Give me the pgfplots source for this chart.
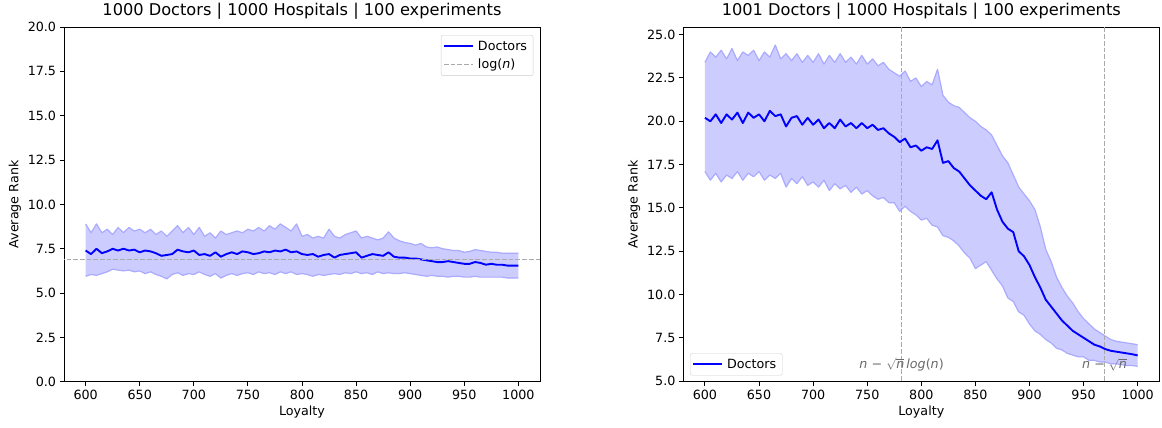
\documentclass[border=0pt]{standalone}
\usepackage{fontspec}
\setmainfont{DejaVu Sans}
\usepackage{pgfplots}
\pgfplotsset{compat=1.18}
\usepackage{pgfplotstable}
\usepgfplotslibrary{fillbetween}

% x, mean, upper band, lower band (read every 5 loyalty units)
\pgfplotstableread{
x m u l
600 7.40 8.90 5.95
605 7.20 8.40 6.05
610 7.50 8.90 6.00
615 7.25 8.40 6.10
620 7.35 8.60 6.20
625 7.50 8.30 6.35
630 7.40 8.70 6.30
635 7.50 8.40 6.25
640 7.40 8.70 6.30
645 7.45 8.50 6.20
650 7.30 8.60 6.25
655 7.40 8.40 6.10
660 7.35 8.60 6.20
665 7.25 8.30 6.05
670 7.10 8.50 5.95
675 7.15 8.20 5.80
680 7.20 8.50 6.05
685 7.45 8.80 6.15
690 7.35 8.40 6.00
695 7.30 8.70 6.10
700 7.40 8.30 6.05
705 7.15 8.70 6.20
710 7.20 8.20 6.05
715 7.10 8.40 5.95
720 7.30 8.10 6.10
725 7.05 8.50 5.85
730 7.20 8.30 6.00
735 7.30 8.40 6.10
740 7.20 8.50 6.00
745 7.35 8.40 6.10
750 7.30 8.60 6.15
755 7.20 8.50 6.05
760 7.25 8.70 6.20
765 7.35 8.50 6.10
770 7.30 8.80 6.15
775 7.40 8.60 6.05
780 7.35 8.90 6.20
785 7.45 8.70 6.10
790 7.30 8.50 6.20
795 7.35 8.90 6.05
800 7.20 8.20 6.10
805 7.15 8.30 6.05
810 7.20 8.10 5.95
815 7.05 8.20 6.05
820 7.15 8.10 6.00
825 7.20 8.60 6.05
830 7.00 8.20 6.10
835 7.15 8.10 6.05
840 7.20 8.30 6.15
845 7.25 8.40 6.10
850 7.30 8.50 6.20
855 7.00 8.10 6.10
860 7.10 8.20 6.15
865 7.20 8.10 6.05
870 7.15 8.00 6.20
875 7.10 8.10 6.10
880 7.30 8.45 6.15
885 7.05 8.10 6.10
890 7.00 7.95 6.10
895 7.00 7.85 6.15
900 6.95 7.80 6.10
905 6.95 7.70 6.05
910 6.90 7.80 6.00
915 6.85 7.60 5.95
920 6.80 7.55 6.00
925 6.75 7.60 5.95
930 6.75 7.50 5.95
935 6.80 7.45 5.90
940 6.75 7.40 5.95
945 6.70 7.40 5.95
950 6.65 7.30 5.90
955 6.65 7.35 5.90
960 6.75 7.45 5.95
965 6.70 7.40 5.90
970 6.60 7.35 5.90
975 6.65 7.30 5.90
980 6.60 7.30 5.90
985 6.60 7.25 5.90
990 6.55 7.25 5.85
995 6.55 7.25 5.85
1000 6.55 7.25 5.85
}\leftdata

\pgfplotstableread{
x m u l
600 20.20 23.40 17.10
605 20.00 24.00 16.60
610 20.40 23.70 17.00
615 19.90 24.10 16.50
620 20.40 23.60 16.90
625 20.10 24.20 16.70
630 20.50 23.50 17.10
635 19.90 24.00 16.60
640 20.50 23.80 17.00
645 20.20 24.10 16.80
650 20.40 23.50 17.10
655 20.00 24.00 16.60
660 20.60 23.70 16.90
665 20.30 24.40 16.70
670 20.40 23.60 17.00
675 19.70 23.90 16.20
680 20.20 23.50 16.70
685 20.30 23.90 16.40
690 19.80 23.40 16.80
695 20.20 23.80 16.30
700 19.80 23.40 16.50
705 20.10 23.90 16.20
710 19.60 23.30 16.60
715 19.90 23.80 16.00
720 19.60 23.40 16.40
725 20.10 23.90 16.10
730 19.70 23.40 16.30
735 19.90 23.70 15.90
740 19.60 23.30 16.20
745 19.90 23.80 15.80
750 19.60 23.30 16.00
755 19.80 23.60 15.70
760 19.50 23.20 15.50
765 19.60 23.40 15.60
770 19.30 23.00 15.30
775 19.10 22.80 15.30
780 18.80 22.60 14.80
785 19.00 22.90 15.10
790 18.50 22.30 14.80
795 18.60 22.50 14.60
800 18.30 22.00 14.30
805 18.50 22.30 14.40
810 18.40 22.10 14.00
815 18.90 23.00 13.90
820 17.60 21.50 13.40
825 17.70 21.10 13.30
830 17.30 20.90 13.10
835 17.10 20.80 12.80
840 16.70 20.50 12.40
845 16.30 20.20 12.10
850 16.00 20.00 11.50
855 15.70 19.70 11.70
860 15.50 19.50 11.90
865 15.90 19.20 11.40
870 14.90 18.60 10.90
875 14.20 18.00 10.50
880 13.80 17.60 9.80
885 13.60 16.90 9.60
890 12.50 16.20 9.00
895 12.20 15.80 8.80
900 11.70 15.40 8.30
905 11.00 14.90 7.90
910 10.40 13.90 7.70
915 9.70 12.60 7.40
920 9.30 11.90 7.20
925 8.90 11.00 6.90
930 8.50 10.40 6.80
935 8.20 9.90 6.60
940 7.90 9.50 6.50
945 7.70 9.00 6.40
950 7.50 8.60 6.40
955 7.30 8.30 6.20
960 7.10 8.00 6.20
965 7.00 7.80 6.10
970 6.85 7.60 6.10
975 6.75 7.40 6.00
980 6.70 7.30 6.00
985 6.65 7.25 5.95
990 6.60 7.20 5.90
995 6.55 7.15 5.90
1000 6.48 7.10 5.85
}\rightdata

\definecolor{bandedge}{RGB}{170,170,255}
\definecolor{refgray}{RGB}{170,170,170}
\definecolor{notegray}{RGB}{105,105,105}

\pgfplotsset{
  panel/.style={
    scale only axis,
    width=476pt, height=354.7pt,
    xmin=580, xmax=1020,
    xtick={600,650,...,1000},
    tick pos=left,
    tick align=outside,
    major tick length=4.4pt,
    tick style={black, line width=1pt},
    axis line style={line width=1pt},
    every axis plot/.append style={line join=round},
    /pgf/number format/assume math mode=true,
    /pgf/number format/1000 sep={},
    ticklabel style={font=\fontsize{12.7}{15}\selectfont},
    yticklabel style={/pgf/number format/.cd, fixed, fixed zerofill, precision=1},
    label style={font=\fontsize{12.7}{15}\selectfont},
    title style={font=\fontsize{16.2}{19}\selectfont, yshift=-2pt},
    xlabel={Loyalty},
    ylabel={Average Rank},
    legend style={font=\fontsize{12.7}{15}\selectfont, draw=black!20,
      rounded corners=2pt, fill=white, fill opacity=0.8, text opacity=1,
      inner xsep=2pt, inner ysep=4pt, row sep=4.5pt,
      nodes={inner xsep=4pt, inner ysep=1.5pt}},
    legend cell align=left,
    legend image code/.code={\draw[##1] (0pt,0pt) -- (29pt,0pt);},
  },
}

\begin{document}
\begin{tikzpicture}

\begin{axis}[panel, at={(64pt,46pt)}, anchor=south west,
  ymin=0, ymax=20, ytick={0,2.5,...,20},
  title={1000 Doctors | 1000 Hospitals | 100 experiments},
  legend style={at={(rel axis cs:1,1)}, anchor=north east, xshift=-6.7pt, yshift=-8pt},
]
\addplot[name path=lup, bandedge, line width=1.2pt, forget plot] table[x=x, y=u] {\leftdata};
\addplot[name path=llo, bandedge, line width=1.2pt, forget plot] table[x=x, y=l] {\leftdata};
\addplot[fill=blue, fill opacity=0.2, draw=none, forget plot] fill between[of=lup and llo];
\addplot[blue, line width=1.9pt] table[x=x, y=m] {\leftdata};
\addlegendentry{Doctors}
\addplot[refgray, line width=1.3pt, dash pattern=on 4.7pt off 2pt] coordinates {(570,6.908) (1030,6.908)};
\addlegendentry{log(\textit{n})}
\end{axis}

\begin{axis}[panel, at={(683.3pt,46pt)}, anchor=south west,
  ymin=4.96, ymax=25.44, ytick={5,7.5,...,25},
  title={1001 Doctors | 1000 Hospitals | 100 experiments},
  legend style={at={(rel axis cs:0,0)}, anchor=south west, xshift=6.7pt, yshift=6.3pt},
]
\addplot[name path=rup, bandedge, line width=1.2pt, forget plot] table[x=x, y=u] {\rightdata};
\addplot[name path=rlo, bandedge, line width=1.2pt, forget plot] table[x=x, y=l] {\rightdata};
\addplot[fill=blue, fill opacity=0.2, draw=none, forget plot] fill between[of=rup and rlo];
\addplot[refgray, line width=1.3pt, dash pattern=on 4.7pt off 2pt, forget plot] coordinates {(781.8,0) (781.8,30)};
\addplot[refgray, line width=1.3pt, dash pattern=on 4.7pt off 2pt, forget plot] coordinates {(969.4,0) (969.4,30)};
\addplot[blue, line width=1.9pt] table[x=x, y=m] {\rightdata};
\addlegendentry{Doctors}
\node[text=notegray, font=\fontsize{12.7}{15}\selectfont, inner sep=0pt] at (axis cs:781.8,5.95)
  {\textit{n} − $\sqrt{\mbox{\textit{n}}}$\,\textit{log}(\textit{n})};
\node[text=notegray, font=\fontsize{12.7}{15}\selectfont, inner sep=0pt] at (axis cs:969.4,5.95)
  {\textit{n} − $\sqrt{\mbox{\textit{n}}}$};
\end{axis}
\path (0pt,0pt) rectangle (1162pt,425pt);
\end{tikzpicture}
\end{document}
